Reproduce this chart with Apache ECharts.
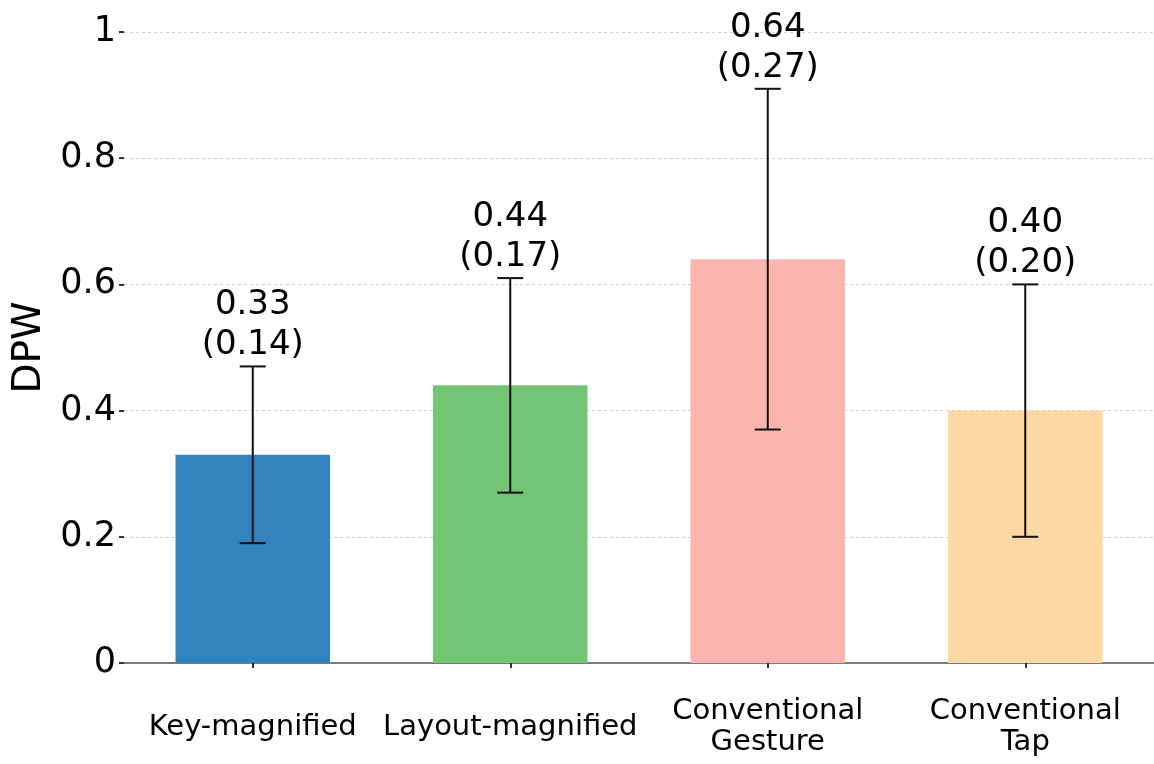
<!DOCTYPE html>
<html>
<head>
<meta charset="utf-8">
<title>DPW by keyboard condition</title>
<script src="https://cdn.jsdelivr.net/npm/echarts@6/dist/echarts.min.js"></script>
<style>
  html, body { margin: 0; padding: 0; background: #ffffff; }
  #chart { width: 1154px; height: 764px; }
</style>
</head>
<body>
<div id="chart"></div>
<script>
// Conditions on the x axis
const categories = ['Key-magnified', 'Layout-magnified', 'Conventional\nGesture', 'Conventional\nTap'];
// Mean DPW per condition
const means = [0.33, 0.44, 0.64, 0.40];
// Standard deviation per condition (error bar half-length)
const sds = [0.14, 0.17, 0.27, 0.20];
// Bar fill colours
const barColors = ['#3182bd', '#74c476', '#fbb4ae', '#fed8a4'];
// Y axis ticks
const yTicks = [0, 0.2, 0.4, 0.6, 0.8, 1];

const FONT = 'DejaVu Sans';

const barData = means.map((m, i) => ({ value: m, itemStyle: { color: barColors[i] } }));
const errData = means.map((m, i) => [i, m - sds[i], m + sds[i], m, sds[i]]);

// Error bar (whisker + caps) with "mean (sd)" annotation above it
function renderError(params, api) {
  const i = api.value(0);
  const lo = api.coord([i, api.value(1)]);
  const hi = api.coord([i, api.value(2)]);
  const cap = 13;
  const lineStyle = { stroke: '#111111', lineWidth: 2 };
  const label = api.value(3).toFixed(2) + '\n(' + api.value(4).toFixed(2) + ')';
  return {
    type: 'group',
    children: [
      { type: 'line', shape: { x1: hi[0], y1: hi[1], x2: lo[0], y2: lo[1] }, style: lineStyle },
      { type: 'line', shape: { x1: hi[0] - cap, y1: hi[1], x2: hi[0] + cap, y2: hi[1] }, style: lineStyle },
      { type: 'line', shape: { x1: lo[0] - cap, y1: lo[1], x2: lo[0] + cap, y2: lo[1] }, style: lineStyle },
      {
        type: 'text',
        x: hi[0],
        y: hi[1] - 1,
        style: {
          text: label,
          fill: '#000000',
          fontSize: 34,
          fontFamily: FONT,
          lineHeight: 40,
          align: 'center',
          verticalAlign: 'bottom'
        }
      }
    ]
  };
}

const chart = echarts.init(document.getElementById('chart'), null, { renderer: 'canvas' });

chart.setOption({
  backgroundColor: '#ffffff',
  animation: false,
  textStyle: { fontFamily: FONT },
  grid: { left: 124, right: 0, top: 32, bottom: 101, containLabel: false, outerBoundsMode: 'none' },
  xAxis: {
    type: 'category',
    data: categories,
    boundaryGap: true,
    axisLine: { show: true, lineStyle: { color: '#7a7a7a', width: 2 } },
    axisTick: { show: true, alignWithLabel: true, length: 5, lineStyle: { color: '#333333', width: 2 } },
    axisLabel: {
      fontSize: 29,
      fontFamily: FONT,
      color: '#000000',
      margin: 64,
      lineHeight: 31,
      verticalAlign: 'middle',
      interval: 0
    },
    splitLine: { show: false }
  },
  yAxis: {
    type: 'value',
    min: yTicks[0],
    max: yTicks[yTicks.length - 1],
    interval: yTicks[1] - yTicks[0],
    name: 'DPW',
    nameLocation: 'middle',
    nameRotate: 90,
    nameGap: 71,
    nameTextStyle: { fontSize: 39, fontFamily: FONT, color: '#000000' },
    axisLine: { show: false },
    axisTick: { show: true, length: 5, lineStyle: { color: '#333333', width: 2 } },
    axisLabel: {
      fontSize: 35,
      fontFamily: FONT,
      color: '#000000',
      margin: 8,
      formatter: v => (v === 0 || v === 1) ? String(v) : v.toFixed(1)
    },
    splitLine: { show: true, lineStyle: { color: '#cfcfcf', type: [3, 3], width: 1 } }
  },
  series: [
    {
      type: 'bar',
      data: barData,
      barWidth: '60%',
      z: 2
    },
    {
      type: 'custom',
      data: errData,
      renderItem: renderError,
      encode: { x: 0, y: [1, 2] },
      z: 5
    }
  ]
});
</script>
</body>
</html>
